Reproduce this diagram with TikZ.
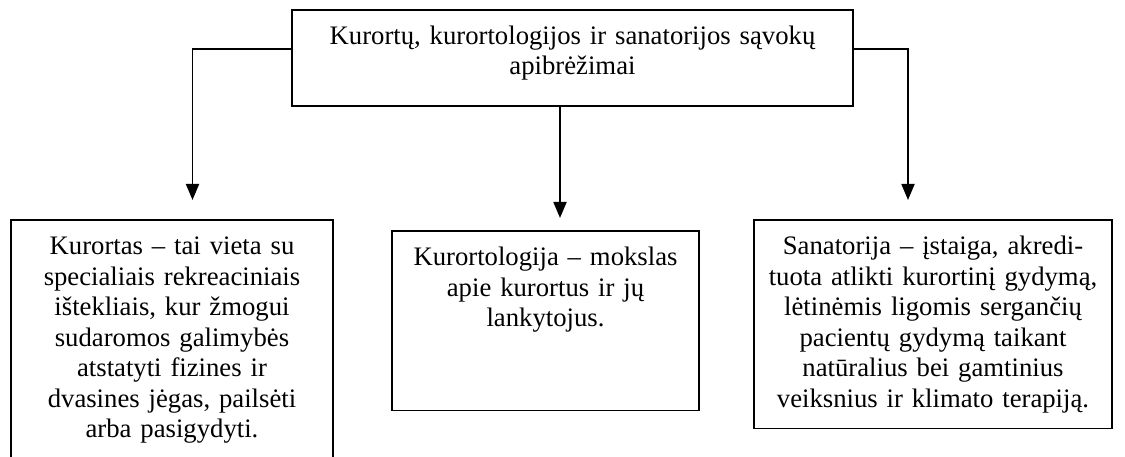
\documentclass[tikz,border=0pt]{standalone}
\usepackage{fontspec}
\setmainfont{Liberation Serif}
\usetikzlibrary{arrows.meta}

\begin{document}
\begin{tikzpicture}
  [x=1pt,y=-1pt,
   boxN/.style={draw,line width=1.8pt,anchor=north,align=center,
     inner xsep=5pt,inner ysep=0pt,text height=34.5pt,
     font=\fontsize{26.7}{30.6}\selectfont},
   arrowL/.style={line width=1.8pt,-{Triangle[length=16pt,width=13pt]}}]

  \useasboundingbox (0,0) rectangle (1125,457);
  \clip (0,0) rectangle (1125,457);

  \node[boxN,text width=551pt,text depth=62pt] (top) at (572.5,9)
    {Kurortų, kurortologijos ir sanatorijos sąvokų\\apibrėžimai};

  \node[boxN,text width=312pt,text depth=240pt] (kurortas) at (172,219)
    {Kurortas -- tai vieta su\\specialiais rekreaciniais\\ištekliais, kur žmogui\\
     sudaromos galimybės\\atstatyti fizines ir\\dvasines jėgas, pailsėti\\arba pasigydyti.};
  \node[boxN,text width=297pt,text depth=145pt] (kurortologija) at (545.5,230)
    {Kurortologija -- mokslas\\apie kurortus ir jų\\lankytojus.};
  \node[boxN,text width=348pt,text depth=174pt] (sanatorija) at (933,219)
    {Sanatorija -- įstaiga, akredi-\\tuota atlikti kurortinį gydymą,\\lėtinėmis ligomis sergančių\\
     pacientų gydymą taikant\\natūralius bei gamtinius\\veiksnius ir klimato terapiją.};

  \coordinate (tipL) at (192.5,200);
  \coordinate (tipM) at (560,218);
  \coordinate (tipR) at (908,200);

  \draw [arrowL] ([yshift=9.5pt]top.west) -| (tipL);
  \draw [arrowL] (top.south -| tipM) -- (tipM);
  \draw [arrowL] ([yshift=9.5pt]top.east) -| (tipR);
\end{tikzpicture}
\end{document}
